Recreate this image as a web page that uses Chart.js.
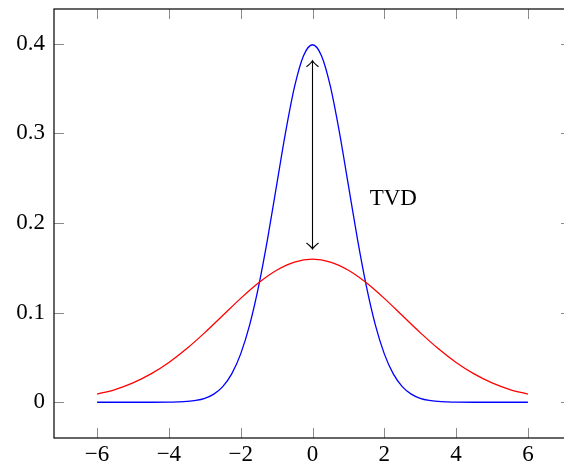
<!DOCTYPE html>
<html>
<head>
<meta charset="utf-8">
<script src="https://cdn.jsdelivr.net/npm/chart.js@4.4.0/dist/chart.umd.min.js"></script>
<style>
  html, body { margin: 0; padding: 0; background: #fff; overflow: hidden; }
  #wrap { width: 575px; height: 470px; }
</style>
</head>
<body>
<div id="wrap"><canvas id="c"></canvas></div>
<script>
// valores
const blueX = [-6, -5.5, -5, -4.5, -4, -3.75, -3.5, -3.25, -3, -2.75, -2.5, -2.25, -2, -1.75, -1.5, -1.25, -1, -0.75, -0.5, -0.25,
               0, 0.25, 0.5, 0.75, 1, 1.25, 1.5, 1.75, 2, 2.25, 2.5, 2.75, 3, 3.25, 3.5, 3.75, 4, 4.5, 5, 5.5, 6];
const blueY = [0, 0, 0, 0, 0.0001, 0.0004, 0.0009, 0.002, 0.0044, 0.0091, 0.0175, 0.0317, 0.054, 0.0863, 0.1295, 0.1826, 0.242, 0.3011, 0.3521, 0.3867,
               0.3989, 0.3867, 0.3521, 0.3011, 0.242, 0.1826, 0.1295, 0.0863, 0.054, 0.0317, 0.0175, 0.0091, 0.0044, 0.002, 0.0009, 0.0004, 0.0001, 0, 0, 0, 0];
const redX = [-6, -5.5, -5, -4.5, -4, -3.5, -3, -2.5, -2, -1.5, -1, -0.5, 0, 0.5, 1, 1.5, 2, 2.5, 3, 3.5, 4, 4.5, 5, 5.5, 6];
const redY = [0.009, 0.0142, 0.0216, 0.0316, 0.0444, 0.0599, 0.0777, 0.0968, 0.1159, 0.1333, 0.1473, 0.1564,
              0.1596, 0.1564, 0.1473, 0.1333, 0.1159, 0.0968, 0.0777, 0.0599, 0.0444, 0.0316, 0.0216, 0.0142, 0.009];
const xTicks = [-6, -4, -2, 0, 2, 4, 6];
const xTickLabels = ['\u22126', '\u22124', '\u22122', '0', '2', '4', '6'];
const yTicks = [0, 0.1, 0.2, 0.3, 0.4];
const yTickLabels = ['0', '0.1', '0.2', '0.3', '0.4'];
// flecha TVD
const arrowX = 0;
const arrowFrom = 0.381;
const arrowTo = 0.171;
const tvdLabel = 'TVD';
const tvdX = 2.25;
const tvdY = 0.227;

const fuente = '23px "Liberation Serif"';

function puntos(xs, ys) {
    return xs.map((x, i) => ({ x: x, y: ys[i] }));
}

// marco, marcas hacia adentro y etiquetas, estilo pgfplots
const marcoPlugin = {
    id: 'marco',
    afterDraw(chart) {
        const ctx = chart.ctx;
        const a = chart.chartArea;
        const sx = chart.scales.x, sy = chart.scales.y;
        const L = 10;
        ctx.save();
        ctx.strokeStyle = '#8a8a8a';
        ctx.lineWidth = 1;
        xTicks.forEach(v => {
            const px = Math.round(sx.getPixelForValue(v)) + 0.5;
            ctx.beginPath();
            ctx.moveTo(px, a.bottom); ctx.lineTo(px, a.bottom - L);
            ctx.moveTo(px, a.top); ctx.lineTo(px, a.top + L);
            ctx.stroke();
        });
        yTicks.forEach(v => {
            const py = Math.round(sy.getPixelForValue(v)) + 0.5;
            ctx.beginPath();
            ctx.moveTo(a.left, py); ctx.lineTo(a.left + L, py);
            ctx.moveTo(a.right, py); ctx.lineTo(a.right - L, py);
            ctx.stroke();
        });
        ctx.strokeStyle = '#000';
        ctx.lineWidth = 1.2;
        ctx.strokeRect(a.left, a.top, a.right - a.left, a.bottom - a.top);

        // etiquetas de los ejes
        ctx.fillStyle = '#000';
        ctx.font = fuente;
        ctx.textAlign = 'center';
        ctx.textBaseline = 'middle';
        xTicks.forEach((v, i) => {
            ctx.fillText(xTickLabels[i], sx.getPixelForValue(v), a.bottom + 17);
        });
        ctx.textAlign = 'right';
        yTicks.forEach((v, i) => {
            ctx.fillText(yTickLabels[i], a.left - 9, sy.getPixelForValue(v));
        });

        // flecha doble
        const x = sx.getPixelForValue(arrowX);
        const y1 = sy.getPixelForValue(arrowFrom);
        const y2 = sy.getPixelForValue(arrowTo);
        ctx.lineWidth = 1.1;
        ctx.beginPath();
        ctx.moveTo(x, y1); ctx.lineTo(x, y2);
        ctx.moveTo(x - 6, y1 + 6); ctx.quadraticCurveTo(x - 1, y1 + 2, x, y1); ctx.quadraticCurveTo(x + 1, y1 + 2, x + 6, y1 + 6);
        ctx.moveTo(x - 6, y2 - 6); ctx.quadraticCurveTo(x - 1, y2 - 2, x, y2); ctx.quadraticCurveTo(x + 1, y2 - 2, x + 6, y2 - 6);
        ctx.stroke();

        ctx.textAlign = 'center';
        ctx.fillText(tvdLabel, sx.getPixelForValue(tvdX), sy.getPixelForValue(tvdY));
        ctx.restore();
    }
};

new Chart(document.getElementById('c'), {
    type: 'line',
    data: {
        datasets: [{
            data: puntos(redX, redY),
            borderColor: '#ff0000',
            borderWidth: 1.3,
            pointRadius: 0,
            cubicInterpolationMode: 'monotone',
            fill: false
        }, {
            data: puntos(blueX, blueY),
            borderColor: '#0000ff',
            borderWidth: 1.3,
            pointRadius: 0,
            cubicInterpolationMode: 'monotone',
            fill: false
        }]
    },
    options: {
        responsive: true,
        maintainAspectRatio: false,
        animation: false,
        layout: { padding: { top: 9, right: 4, left: 0, bottom: 0 } },
        plugins: {
            legend: { display: false },
            tooltip: { enabled: false }
        },
        scales: {
            x: {
                type: 'linear',
                min: -7.2,
                max: 7.2,
                grid: { display: false, drawTicks: false },
                border: { display: false },
                ticks: { display: false },
                afterFit: s => { s.height = 32; }
            },
            y: {
                min: -0.0399,
                max: 0.4388,
                grid: { display: false, drawTicks: false },
                border: { display: false },
                ticks: { display: false },
                afterFit: s => { s.width = 54; }
            }
        }
    },
    plugins: [marcoPlugin]
});
</script>
</body>
</html>
